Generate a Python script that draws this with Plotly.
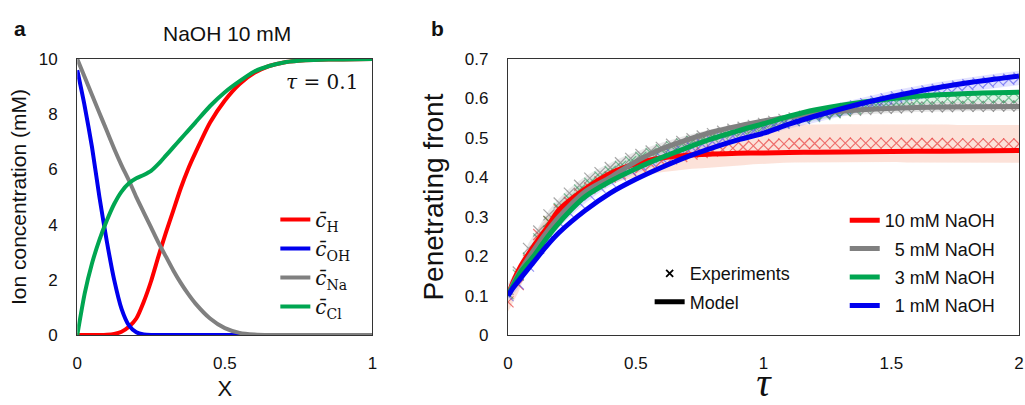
import plotly.graph_objects as go

# ---------------- Panel a : ion concentration profiles ----------------
X_grid = [0, 0.025, 0.05, 0.075, 0.1, 0.125, 0.15, 0.175, 0.2, 0.225, 0.25, 0.275, 0.3,
          0.325, 0.35, 0.375, 0.4, 0.45, 0.5, 0.55, 0.6, 0.65, 0.7, 0.75, 0.8, 0.9, 1.0]
c_H = [0, 0, 0, 0, 0.01, 0.04, 0.12, 0.3, 0.6, 1.2, 1.95, 2.85, 3.7,
       4.5, 5.3, 6.0, 6.6, 7.7, 8.5, 9.1, 9.5, 9.75, 9.88, 9.94, 9.97, 9.99, 10]
c_OH = [9.6, 8.3, 6.8, 5.0, 3.4, 2.0, 0.95, 0.35, 0.1, 0.02, 0, 0, 0,
        0, 0, 0, 0, 0, 0, 0, 0, 0, 0, 0, 0, 0, 0]
c_Na = [10, 9.35, 8.7, 8.05, 7.4, 6.75, 6.15, 5.6, 5.0, 4.45, 3.9, 3.35, 2.85,
        2.35, 1.9, 1.5, 1.15, 0.6, 0.25, 0.08, 0.02, 0, 0, 0, 0, 0, 0]
c_Cl = [0, 1.5, 2.6, 3.45, 4.15, 4.75, 5.2, 5.5, 5.68, 5.8, 5.95, 6.2, 6.5,
        6.8, 7.1, 7.4, 7.7, 8.3, 8.8, 9.2, 9.55, 9.75, 9.88, 9.94, 9.97, 9.99, 10]
a_names = ["<i>c\u0304</i><sub>H</sub>", "<i>c\u0304</i><sub>OH</sub>",
           "<i>c\u0304</i><sub>Na</sub>", "<i>c\u0304</i><sub>Cl</sub>"]
a_colors = ["#ff0000", "#0000ee", "#808080", "#00a651"]

# ---------------- Panel b : penetrating front ----------------
tau_model = [0, 0.02, 0.05, 0.1, 0.15, 0.2, 0.3, 0.4, 0.5, 0.6, 0.7, 0.8, 0.9, 1.0,
             1.1, 1.2, 1.4, 1.6, 1.8, 2.0]
model_10 = [0.10, 0.135, 0.175, 0.225, 0.27, 0.318, 0.37, 0.41, 0.435, 0.449, 0.456, 0.459,
            0.461, 0.462, 0.463, 0.464, 0.465, 0.466, 0.467, 0.468]
model_5 = [0.10, 0.13, 0.165, 0.215, 0.26, 0.3, 0.363, 0.40, 0.44, 0.472, 0.495, 0.515,
           0.53, 0.543, 0.553, 0.562, 0.572, 0.577, 0.579, 0.58]
model_3 = [0.10, 0.125, 0.16, 0.2, 0.245, 0.285, 0.35, 0.39, 0.422, 0.45, 0.475, 0.498,
           0.518, 0.536, 0.555, 0.571, 0.592, 0.606, 0.613, 0.616]
model_1 = [0.10, 0.12, 0.145, 0.185, 0.225, 0.26, 0.315, 0.36, 0.395, 0.425, 0.452, 0.475,
           0.495, 0.512, 0.535, 0.555, 0.59, 0.618, 0.64, 0.657]

tau_exp = [0.0, 0.04, 0.08, 0.12, 0.16, 0.2, 0.24, 0.28, 0.32, 0.36, 0.4, 0.44, 0.48,
           0.52, 0.56, 0.6, 0.64, 0.68, 0.72, 0.76, 0.8, 0.84, 0.88, 0.92, 0.96, 1.0,
           1.04, 1.08, 1.12, 1.16, 1.2, 1.24, 1.28, 1.32, 1.36, 1.4, 1.44, 1.48, 1.52,
           1.56, 1.6, 1.64, 1.68, 1.72, 1.76, 1.8, 1.84, 1.88, 1.92, 1.96, 2.0]
exp_10 = [0.084, 0.128, 0.19, 0.255, 0.288, 0.318, 0.337, 0.358, 0.373, 0.389, 0.401, 0.409,
          0.417, 0.425, 0.433, 0.441, 0.447, 0.453, 0.459, 0.463, 0.467, 0.47, 0.474, 0.477,
          0.48, 0.482, 0.484, 0.485, 0.486, 0.486, 0.486, 0.487, 0.487, 0.487, 0.487, 0.487,
          0.487, 0.487, 0.487, 0.486, 0.486, 0.486, 0.486, 0.486, 0.485, 0.485, 0.485, 0.485,
          0.485, 0.485, 0.485]
exp_5 = [0.116, 0.16, 0.22, 0.264, 0.305, 0.335, 0.36, 0.38, 0.398, 0.412, 0.425, 0.437,
         0.448, 0.458, 0.467, 0.476, 0.484, 0.491, 0.498, 0.505, 0.511, 0.517, 0.522, 0.527,
         0.532, 0.537, 0.542, 0.547, 0.551, 0.555, 0.559, 0.562, 0.565, 0.568, 0.57, 0.572,
         0.574, 0.575, 0.576, 0.577, 0.578, 0.578, 0.579, 0.579, 0.58, 0.58, 0.58, 0.58,
         0.581, 0.581, 0.581]
exp_3 = [0.105, 0.152, 0.195, 0.244, 0.288, 0.321, 0.345, 0.368, 0.385, 0.401, 0.415, 0.428,
         0.44, 0.451, 0.461, 0.47, 0.478, 0.485, 0.491, 0.497, 0.503, 0.509, 0.514, 0.519,
         0.524, 0.529, 0.534, 0.539, 0.544, 0.549, 0.554, 0.559, 0.564, 0.569, 0.574, 0.579,
         0.583, 0.587, 0.59, 0.593, 0.595, 0.597, 0.598, 0.599, 0.6, 0.6, 0.601, 0.601,
         0.602, 0.602, 0.602]
exp_1 = [0.10, 0.13, 0.175, 0.22, 0.255, 0.285, 0.31, 0.335, 0.355, 0.375, 0.39, 0.405,
         0.418, 0.43, 0.44, 0.45, 0.46, 0.468, 0.476, 0.484, 0.491, 0.498, 0.505, 0.511,
         0.517, 0.523, 0.53, 0.537, 0.544, 0.55, 0.557, 0.563, 0.569, 0.575, 0.581, 0.587,
         0.593, 0.599, 0.604, 0.609, 0.614, 0.619, 0.623, 0.627, 0.631, 0.635, 0.639, 0.642,
         0.646, 0.649, 0.652]
err_10 = [0.025, 0.02, 0.018, 0.016, 0.015, 0.015, 0.015, 0.015, 0.015, 0.016, 0.017, 0.018,
          0.02, 0.022, 0.025, 0.028, 0.031, 0.034, 0.037, 0.04, 0.042, 0.044, 0.045, 0.046,
          0.047, 0.048, 0.048, 0.048, 0.048, 0.048, 0.048, 0.048, 0.048, 0.048, 0.048, 0.048,
          0.048, 0.048, 0.048, 0.048, 0.048, 0.048, 0.048, 0.048, 0.048, 0.048, 0.048, 0.048,
          0.048, 0.048, 0.048]
err_5 = [0.015, 0.014, 0.013, 0.012, 0.012, 0.012, 0.012, 0.012, 0.012, 0.012, 0.012, 0.012,
         0.012, 0.012, 0.012, 0.012, 0.012, 0.012, 0.012, 0.012, 0.012, 0.012, 0.012, 0.012,
         0.012, 0.012, 0.012, 0.012, 0.012, 0.012, 0.012, 0.012, 0.012, 0.012, 0.012, 0.012,
         0.012, 0.012, 0.012, 0.012, 0.012, 0.012, 0.012, 0.012, 0.012, 0.012, 0.012, 0.012,
         0.012, 0.012, 0.012]
err_3 = [0.012, 0.011, 0.01, 0.01, 0.01, 0.01, 0.01, 0.01, 0.01, 0.01, 0.01, 0.01,
         0.01, 0.01, 0.01, 0.01, 0.01, 0.01, 0.01, 0.01, 0.01, 0.01, 0.01, 0.01,
         0.01, 0.01, 0.01, 0.01, 0.01, 0.01, 0.01, 0.01, 0.01, 0.01, 0.01, 0.01,
         0.01, 0.01, 0.01, 0.01, 0.01, 0.01, 0.01, 0.01, 0.01, 0.01, 0.01, 0.01,
         0.01, 0.01, 0.01]
err_1 = [0.012, 0.012, 0.012, 0.012, 0.012, 0.012, 0.012, 0.012, 0.012, 0.012, 0.012, 0.013,
         0.013, 0.013, 0.013, 0.014, 0.014, 0.014, 0.014, 0.015, 0.015, 0.015, 0.015, 0.016,
         0.016, 0.016, 0.016, 0.016, 0.017, 0.017, 0.017, 0.017, 0.017, 0.017, 0.018, 0.018,
         0.018, 0.018, 0.018, 0.018, 0.018, 0.018, 0.018, 0.018, 0.018, 0.018, 0.018, 0.018,
         0.018, 0.018, 0.018]

b_names = ["10 mM NaOH", "\u20075 mM NaOH", "\u20073 mM NaOH", "\u20071 mM NaOH"]
b_colors = ["#ff0000", "#808080", "#00a651", "#0000ee"]
b_marker = ["rgba(230,50,50,0.65)", "rgba(110,110,110,0.6)",
            "rgba(30,150,80,0.55)", "rgba(60,60,235,0.55)"]
b_band = ["rgba(245,160,130,0.30)", "rgba(150,150,150,0.22)",
          "rgba(80,190,120,0.18)", "rgba(110,110,255,0.20)"]
models = [model_10, model_5, model_3, model_1]
exps = [exp_10, exp_5, exp_3, exp_1]
errs = [err_10, err_5, err_3, err_1]

W, H = 1025, 405
def px(x):
    return x / W
def py(y):
    return (H - y) / H

fig = go.Figure()

# panel a curves
for yv, nm, col in zip([c_H, c_OH, c_Na, c_Cl], a_names, a_colors):
    fig.add_trace(go.Scatter(x=X_grid, y=yv, mode="lines", name=nm,
                             line=dict(color=col, width=4, shape="spline", smoothing=0.6),
                             xaxis="x", yaxis="y", legend="legend",
                             legendgroup=nm))

# panel b bands
for e, er, bc in zip(exps, errs, b_band):
    up = [v + d for v, d in zip(e, er)]
    lo = [v - d for v, d in zip(e, er)]
    fig.add_trace(go.Scatter(x=tau_exp + tau_exp[::-1], y=up + lo[::-1], fill="toself",
                             fillcolor=bc, line=dict(width=0), mode="lines",
                             hoverinfo="skip", showlegend=False, xaxis="x2", yaxis="y2"))
# panel b experiment markers
for e, mc in zip(exps, b_marker):
    fig.add_trace(go.Scatter(x=tau_exp, y=e, mode="markers",
                             marker=dict(symbol="x-thin", size=11, line=dict(width=1.2, color=mc)),
                             showlegend=False, xaxis="x2", yaxis="y2"))
# panel b model lines
for m, nm, col in zip(models, b_names, b_colors):
    fig.add_trace(go.Scatter(x=tau_model, y=m, mode="lines", name=nm,
                             line=dict(color=col, width=5, shape="spline", smoothing=0.8),
                             xaxis="x2", yaxis="y2", legend="legend2", legendgroup=nm))
# style legend entries
fig.add_trace(go.Scatter(x=[None], y=[None], mode="markers", name="Experiments",
                         marker=dict(symbol="x-thin", size=7, line=dict(width=1.8, color="black")),
                         xaxis="x2", yaxis="y2", legend="legend3", legendgroup="exp"))
fig.add_trace(go.Scatter(x=[None], y=[None], mode="lines", name="Model",
                         line=dict(color="black", width=5),
                         xaxis="x2", yaxis="y2", legend="legend3", legendgroup="mod"))

axis_common = dict(showgrid=False, zeroline=False, showline=True, mirror=True,
                   linecolor="#333333", linewidth=1.3, ticks="",
                   tickfont=dict(family="Liberation Sans, Arial", size=17, color="#111"))

fig.update_layout(
    width=W, height=H, margin=dict(l=0, r=0, t=0, b=0),
    paper_bgcolor="white", plot_bgcolor="white",
    font=dict(family="Liberation Sans, Arial", color="#111"),
    xaxis=dict(domain=[px(73), px(371)], range=[0, 1], tickvals=[0, 0.5, 1],
               ticktext=["0", "0.5", "1"], anchor="y", ticklabelstandoff=12,
               title=dict(text="X", font=dict(size=22), standoff=8), **axis_common),
    yaxis=dict(domain=[py(343), py(52.7)], range=[0, 10], tickvals=[0, 2, 4, 6, 8, 10],
               anchor="x", ticklabelstandoff=15,
               title=dict(text="Ion concentration (mM)", font=dict(size=21), standoff=6),
               **axis_common),
    xaxis2=dict(domain=[px(508), px(1024)], range=[0, 2], tickvals=[0, 0.5, 1, 1.5, 2],
                ticktext=["0", "0.5", "1", "1.5", "2"], anchor="y2", ticklabelstandoff=12,
                title=dict(text="<i>τ</i>", font=dict(size=40, family="Liberation Serif, serif"),
                           standoff=4), **axis_common),
    yaxis2=dict(domain=[py(343), py(52.7)], range=[0, 0.7],
                tickvals=[0, 0.1, 0.2, 0.3, 0.4, 0.5, 0.6, 0.7],
                ticktext=["0", "0.1", "0.2", "0.3", "0.4", "0.5", "0.6", "0.7"],
                anchor="x2", ticklabelstandoff=15,
                title=dict(text="Penetrating front", font=dict(size=28), standoff=13),
                **axis_common),
    legend=dict(x=px(273), y=py(201), xanchor="left", yanchor="top",
                bgcolor="rgba(255,255,255,0)", traceorder="grouped", tracegroupgap=0,
                font=dict(family="DejaVu Serif, serif", size=20, color="#111")),
    legend2=dict(x=px(848), y=py(203), xanchor="left", yanchor="top",
                 bgcolor="rgba(255,255,255,0)", traceorder="grouped", tracegroupgap=2,
                 font=dict(family="Liberation Sans, Arial", size=18, color="#111")),
    legend3=dict(x=px(651), y=py(259), xanchor="left", yanchor="top",
                 bgcolor="rgba(255,255,255,0)", traceorder="grouped", tracegroupgap=2,
                 font=dict(family="Liberation Sans, Arial", size=18, color="#111")),
    annotations=[
        dict(text="<b>a</b>", x=px(15), y=py(21), xref="paper", yref="paper",
             showarrow=False, font=dict(size=21), xanchor="center", yanchor="middle"),
        dict(text="<b>b</b>", x=px(437), y=py(21), xref="paper", yref="paper",
             showarrow=False, font=dict(size=21), xanchor="center", yanchor="middle"),
        dict(text="NaOH 10 mM", x=px(224), y=py(26), xref="paper", yref="paper",
             showarrow=False, font=dict(size=21), xanchor="center", yanchor="middle"),
        dict(text="<i>τ</i> = 0.1", x=px(358), y=py(77), xref="paper", yref="paper",
             showarrow=False, font=dict(size=20, family="DejaVu Serif, serif"),
             xanchor="right", yanchor="middle"),
    ],
)

fig.write_html("out.html", config={"displayModeBar": False},
               post_script="document.body.style.margin='0px';")
